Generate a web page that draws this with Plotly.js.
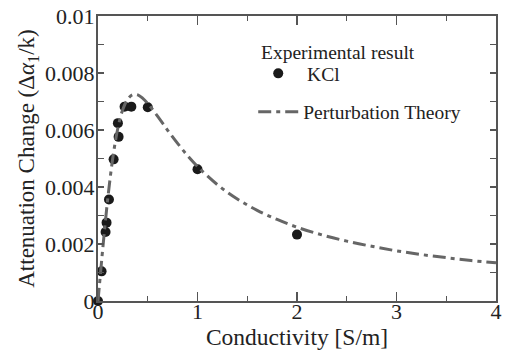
<!DOCTYPE html>
<html>
<head>
<meta charset="utf-8">
<script src="https://cdn.plot.ly/plotly-3.0.1.min.js"></script>
<style>
html,body{margin:0;padding:0;background:#fff;}
#chart{width:507px;height:362px;}
</style>
</head>
<body>
<div id="chart"></div>
<script>
// Experimental result (KCl)
const kclConductivity = [0, 0.036, 0.076, 0.086, 0.11, 0.157, 0.207, 0.2, 0.267, 0.335, 0.5, 1.0, 2.0];
const kclAttenuation = [0, 0.00104, 0.00242, 0.00275, 0.00356, 0.00497, 0.00576, 0.00624, 0.00682, 0.00682, 0.0068, 0.00462, 0.00233];

// Perturbation theory curve
const theoryConductivity = [0, 0.05, 0.1, 0.15, 0.2, 0.25, 0.3, 0.35, 0.4, 0.45, 0.5, 0.6, 0.7, 0.8, 0.9, 1.0, 1.2, 1.4, 1.6, 1.8, 2.0, 2.25, 2.5, 2.75, 3.0, 3.25, 3.5, 3.75, 4.0];
const theoryAttenuation = [0, 0.00192, 0.00365, 0.00505, 0.00607, 0.00673, 0.00709, 0.00724, 0.00723, 0.00711, 0.00693, 0.00648, 0.00599, 0.00553, 0.0051, 0.00472, 0.00408, 0.00358, 0.00318, 0.00286, 0.00259, 0.00232, 0.0021, 0.00192, 0.00176, 0.00163, 0.00152, 0.00142, 0.00134];

// Tick labels
const yTickVals = [0, 0.002, 0.004, 0.006, 0.008, 0.01];
const yTickText = ["0", "0.002", "0.004", "0.006", "0.008", "0.01"];
const xTickVals = [0, 1, 2, 3, 4];
const xTickText = ["0", "1", "2", "3", "4"];

const FONT = "Liberation Serif";
const TXT = "#222";

const traces = [
  {
    x: kclConductivity, y: kclAttenuation,
    type: "scatter", mode: "markers", name: "\u2009KCl",
    marker: {color: "#1a1a1a", size: 10},
    cliponaxis: false,
    legendgroup: "a"
  },
  {
    x: theoryConductivity, y: theoryAttenuation,
    type: "scatter", mode: "lines", name: "Perturbation Theory",
    line: {color: "#666666", width: 3, dash: "13px,5px,4px,5px", shape: "spline"},
    legendgroup: "b"
  }
];

const axisCommon = {
  showline: true, linecolor: "#555", linewidth: 2, mirror: "allticks",
  ticks: "inside", tickcolor: "#555", tickwidth: 1.2,
  showgrid: false, zeroline: false,
  tickfont: {family: FONT, size: 22, color: TXT},
  minor: {ticks: "inside", ticklen: 5, tickcolor: "#555", tickwidth: 1.2, showgrid: false}
};

const layout = {
  width: 507, height: 362,
  margin: {l: 98, r: 11, t: 16, b: 61},
  paper_bgcolor: "#fff", plot_bgcolor: "#fff",
  font: {family: FONT, color: TXT, size: 19.5},
  showlegend: true,
  legend: {
    x: 0.39, y: 0.866, xanchor: "left", yanchor: "top",
    bgcolor: "rgba(0,0,0,0)",
    font: {family: FONT, size: 19.5, color: TXT},
    tracegroupgap: 10,
    itemwidth: 40
  },
  annotations: [{
    text: "Experimental result", xref: "paper", yref: "paper",
    x: 0.404, y: 0.873, xanchor: "left", yanchor: "middle", showarrow: false,
    font: {family: FONT, size: 19.5, color: TXT}
  }],
  xaxis: Object.assign({}, axisCommon, {
    range: [0, 4],
    tickmode: "array", tickvals: xTickVals, ticktext: xTickText, ticklen: 9,
    ticklabelstandoff: -10,
    minor: Object.assign({}, axisCommon.minor, {dtick: 0.5, tick0: 0}),
    title: {text: "Conductivity [S/m]", font: {family: FONT, size: 23.5, color: TXT}, standoff: 5}
  }),
  yaxis: Object.assign({}, axisCommon, {
    range: [0, 0.01],
    tickmode: "array", tickvals: yTickVals, ticktext: yTickText, ticklen: 6,
    ticklabelstandoff: -3,
    minor: Object.assign({}, axisCommon.minor, {dtick: 0.001, tick0: 0, ticklen: 6}),
    title: {text: "Attenuation Change (Δ<i>α</i><sub>1</sub>/k)", font: {family: FONT, size: 23, color: TXT}, standoff: 4}
  })
};

Plotly.newPlot("chart", traces, layout, {displayModeBar: false, staticPlot: true});
</script>
</body>
</html>
